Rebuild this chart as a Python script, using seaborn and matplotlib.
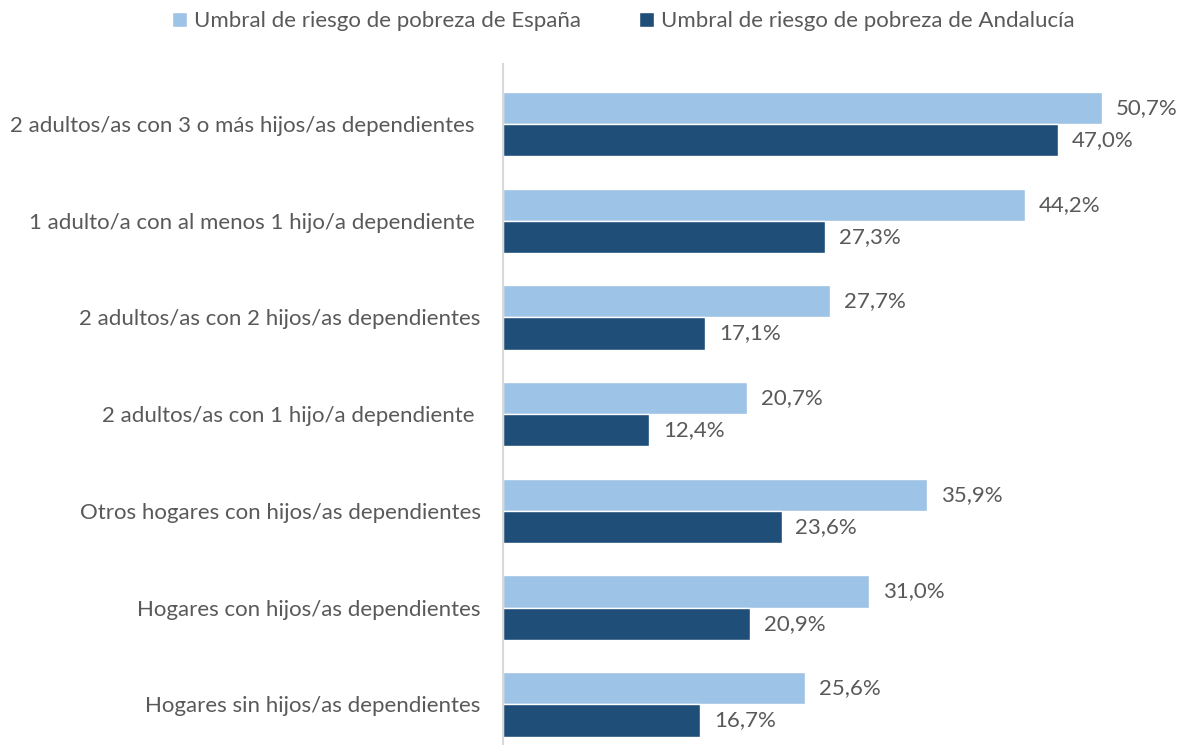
import pandas as pd
import matplotlib.pyplot as plt
import seaborn as sns

# Chart data
categories = [
    "2 adultos/as con 3 o más hijos/as dependientes ",
    "1 adulto/a con al menos 1 hijo/a dependiente ",
    "2 adultos/as con 2 hijos/as dependientes",
    "2 adultos/as con 1 hijo/a dependiente ",
    "Otros hogares con hijos/as dependientes",
    "Hogares con hijos/as dependientes",
    "Hogares sin hijos/as dependientes",
]
series_names = ["Umbral de riesgo de pobreza de España",
                "Umbral de riesgo de pobreza de Andalucía"]
espana = [50.7, 44.2, 27.7, 20.7, 35.9, 31.0, 25.6]
andalucia = [47.0, 27.3, 17.1, 12.4, 23.6, 20.9, 16.7]
colors = ["#9DC3E6", "#1F4E79"]
text_color = "#595959"

df = pd.DataFrame({
    "categoria": categories * 2,
    "serie": [series_names[0]] * len(categories) + [series_names[1]] * len(categories),
    "valor": espana + andalucia,
})

sns.set_theme(style="white")
plt.rcParams['font.family'] = ['Lato', 'DejaVu Sans']
fs = 16

fig = plt.figure(figsize=(11.89, 7.45), dpi=100)
ax = fig.add_axes([0.423, 0.0, 0.566, 0.914])

sns.barplot(data=df, y="categoria", x="valor", hue="serie", orient="h",
            palette=colors, width=0.665, saturation=1, ax=ax, legend=True)

# data labels with comma decimals
for cont in ax.containers:
    labels = [f"{v:.1f}%".replace(".", ",") for v in cont.datavalues]
    ax.bar_label(cont, labels=labels, padding=10, fontsize=fs, color=text_color)

ax.set_xlim(0, 57)
ax.set_ylim(6.42, -0.62)
ax.set_xlabel("")
ax.set_ylabel("")
ax.set_xticks([])
ax.tick_params(axis="y", length=0, pad=16, labelsize=fs, labelcolor=text_color)

for side in ["top", "right", "bottom"]:
    ax.spines[side].set_visible(False)
ax.spines["left"].set_color("#D9D9D9")
ax.spines["left"].set_linewidth(1.5)

handles, labels = ax.get_legend_handles_labels()
ax.get_legend().remove()
fig.legend(handles, labels, loc="upper center", bbox_to_anchor=(0.524, 1.012),
           ncol=2, frameon=False, fontsize=fs, labelcolor=text_color,
           handlelength=0.7, handleheight=0.7, handletextpad=0.3, columnspacing=2.6)

plt.savefig("out.png", dpi=100)
